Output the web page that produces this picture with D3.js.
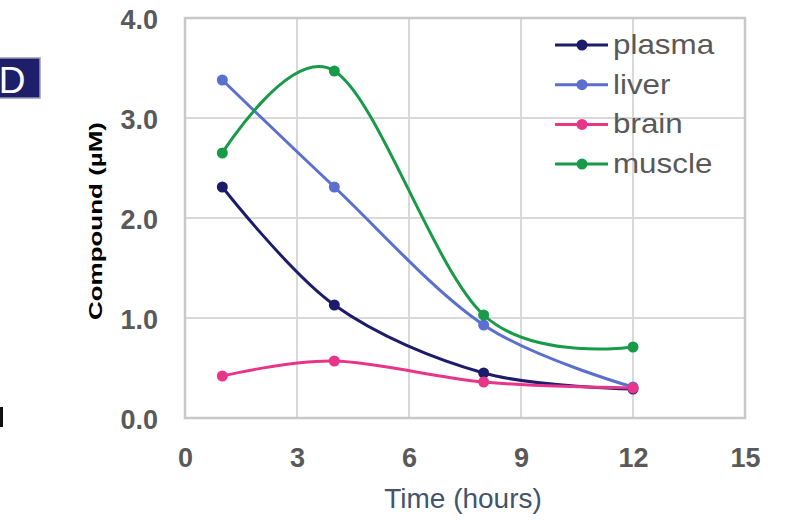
<!DOCTYPE html>
<html><head><meta charset="utf-8">
<script src="https://cdn.jsdelivr.net/npm/d3@7"></script>
<style>body{margin:0;background:#fff}svg{display:block}text{font-family:"Liberation Sans",Arial,sans-serif}</style>
</head><body>
<svg id="c" width="794" height="520"></svg>
<script>
const times = [1, 4, 8, 12];
const seriesNames = ["plasma", "liver", "brain", "muscle"];
const plasma = [2.31, 1.13, 0.45, 0.29];
const liver = [3.38, 2.31, 0.93, 0.31];
const brain = [0.42, 0.57, 0.36, 0.30];
const muscle = [2.65, 3.47, 1.03, 0.71];
const xTicks = [0, 3, 6, 9, 12, 15];
const yTicks = [0, 1, 2, 3, 4];
const colors = ["#1c1c6b", "#5a6fcf", "#e8358a", "#199a48"];
const seriesValues = [plasma, liver, brain, muscle];

const svg = d3.select("#c");
const x = d3.scaleLinear().domain([0, 15]).range([185, 745]);
const y = d3.scaleLinear().domain([0, 4]).range([418, 18]);

// grid
svg.append("g").selectAll("line").data(xTicks).join("line")
  .attr("x1", d => x(d)).attr("x2", d => x(d)).attr("y1", y(0)).attr("y2", y(4))
  .attr("stroke", "#d9d9d9").attr("stroke-width", 2);
svg.append("g").selectAll("line").data(yTicks).join("line")
  .attr("x1", x(0)).attr("x2", x(15)).attr("y1", d => y(d)).attr("y2", d => y(d))
  .attr("stroke", "#d9d9d9").attr("stroke-width", 2);
svg.append("rect").attr("x", x(0)).attr("y", y(4)).attr("width", x(15) - x(0)).attr("height", y(0) - y(4))
  .attr("fill", "none").attr("stroke", "#c8c8c8").attr("stroke-width", 2.5);

// axes labels
const xAxis = d3.axisBottom(x).tickValues(xTicks).tickSize(0).tickPadding(0).tickFormat(d3.format("d"));
const gx = svg.append("g").attr("transform", `translate(0,${y(0)})`).call(xAxis);
gx.select(".domain").remove();
gx.selectAll("text").attr("dy", null).attr("y", 49).attr("font-size", 27).attr("font-weight", "bold")
  .attr("fill", "#595959").attr("font-family", "Liberation Sans, Arial, sans-serif");

const yAxis = d3.axisLeft(y).tickValues(yTicks).tickSize(0).tickPadding(27).tickFormat(d3.format(".1f"));
const gy = svg.append("g").attr("transform", `translate(${x(0)},0)`).call(yAxis);
gy.select(".domain").remove();
gy.selectAll("text").attr("dy", null).attr("y", 10).attr("font-size", 27).attr("font-weight", "bold")
  .attr("fill", "#595959").attr("font-family", "Liberation Sans, Arial, sans-serif");

svg.append("text").attr("transform", "translate(102,221) rotate(-90)").attr("text-anchor", "middle")
  .attr("font-size", 19).attr("font-weight", "bold").attr("fill", "#000")
  .attr("textLength", 198).attr("lengthAdjust", "spacingAndGlyphs").text("Compound (µM)");
svg.append("text").attr("x", 463).attr("y", 508).attr("text-anchor", "middle")
  .attr("font-size", 28).attr("fill", "#44546a").text("Time (hours)");

// lines
const line = d3.line().x((d, i) => x(times[i])).y(d => y(d)).curve(d3.curveCardinal.tension(0));
seriesValues.forEach((vals, k) => {
  svg.append("path").attr("d", line(vals)).attr("fill", "none").attr("stroke", colors[k]).attr("stroke-width", 3);
  svg.append("g").selectAll("circle").data(vals).join("circle")
    .attr("cx", (d, i) => x(times[i])).attr("cy", d => y(d)).attr("r", 5.5).attr("fill", colors[k]);
});

// legend
const lg = svg.append("g");
seriesNames.forEach((n, k) => {
  const yy = 45 + k * 39.7;
  lg.append("line").attr("x1", 555).attr("x2", 608).attr("y1", yy).attr("y2", yy).attr("stroke", colors[k]).attr("stroke-width", 3);
  lg.append("circle").attr("cx", 582).attr("cy", yy).attr("r", 5.5).attr("fill", colors[k]);
  const t = lg.append("text").attr("x", 613).attr("y", yy + 9).attr("font-size", 28).attr("fill", "#595959").text(n);
  const w = t.node().getComputedTextLength();
  t.attr("textLength", w * 1.12).attr("lengthAdjust", "spacingAndGlyphs");
});

// panel label
svg.append("rect").attr("x", -5).attr("y", 58).attr("width", 45).attr("height", 40).attr("fill", "#1e1e6a").attr("stroke", "#9a9ab0").attr("stroke-width", 1.5);
svg.append("text").attr("x", 12).attr("y", 93).attr("text-anchor", "middle").attr("font-size", 37).attr("fill", "#fff").text("D");
svg.append("rect").attr("x", 0).attr("y", 407).attr("width", 3).attr("height", 20).attr("fill", "#111");
</script>
</body></html>
